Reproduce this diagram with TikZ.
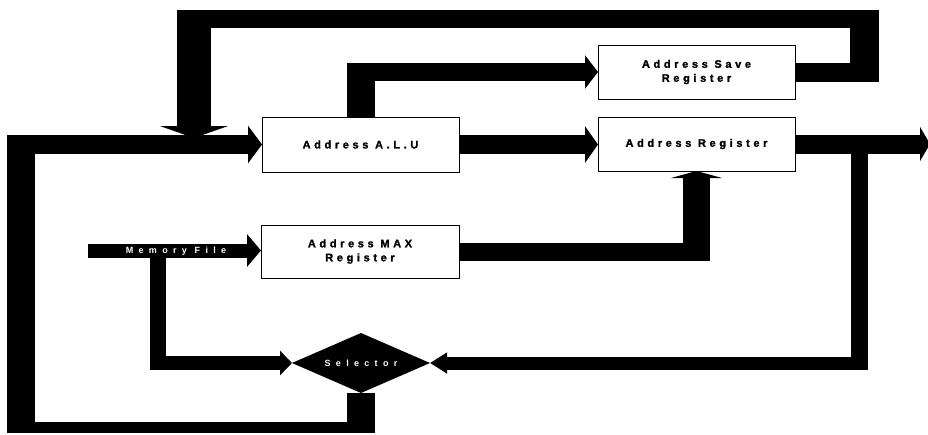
\documentclass[tikz,border=0pt]{standalone}
\usepackage{fontspec}
\setmainfont{Liberation Sans}
\newfontfamily\boxfont[LetterSpace=33,BoldFeatures={FakeBold=1.5}]{Liberation Sans}
\newfontfamily\bandfont[LetterSpace=59]{Liberation Sans}
\usetikzlibrary{arrows.meta,shapes.geometric}
\begin{document}
\begin{tikzpicture}[x=1pt,y=-1pt,
  box/.style={draw, line width=0.8pt, rectangle, fill=white, inner sep=0pt, outer sep=0pt,
    align=center, font=\boxfont\bfseries\fontsize{11}{14}\selectfont},
  band/.style={line width=#1, line cap=butt, line join=miter, draw=black},
  bandtext/.style={text=white, inner sep=0pt, font=\bandfont\bfseries\fontsize{9}{11}\selectfont}
]
\useasboundingbox (0,0) rectangle (928,434);

% blocks
\node[box, minimum width=197pt, minimum height=55pt] (alu)  at (360.5,144.5) {Address A.L.U};
\node[box, minimum width=197pt, minimum height=54pt] (save) at (696.5,72) {Address Save\\Register};
\node[box, minimum width=197pt, minimum height=54pt] (areg) at (696.5,144) {Address Register};
\node[box, minimum width=198pt, minimum height=53pt] (amax) at (360,251.5) {Address MAX\\Register};
\node[diamond, fill=black, minimum width=138pt, minimum height=60pt, inner sep=0pt, outer sep=0pt] (sel) at (361,363) {};

\coordinate (merge) at (194,138);
\coordinate (out) at (930,144);
\coordinate (mfin) at (88,250.5);

% selector -> ALU (main loop)
\draw[band=28pt] (sel.south) -- (361,433);
\draw[band=11pt] (375,427.5) -- (7,427.5);
\draw[band=28pt] (21,433) -- (21,135);
\draw[band=19pt, -{Triangle[length=14pt,width=37pt]}] (7,144.5) -- (alu.west);

% save register -> back into ALU input
\draw[band=19pt] (save.east) -- (879,72);
\draw[band=29pt] (864.5,81.5) -- (864.5,10);
\draw[band=18pt] (879,19) -- (177,19);
\draw[band=34pt, -{Triangle[length=12pt,width=68pt]}] (194,10) -- (merge);

% ALU -> save register
\draw[band=28pt] (alu.north) -- (360.5,64);
\draw[band=18pt, -{Triangle[length=13pt,width=33pt]}] (346.5,72) -- (save.west);

% ALU -> address register
\draw[band=19pt, -{Triangle[length=13pt,width=36pt]}] (alu.east) -- (alu.east -| areg.west);

% address register -> out
\draw[band=19pt, -{Triangle[length=10pt,width=34pt]}] (areg.east) -- (out);

% address register -> selector
\draw[band=17pt] (859.5,144) -- (859.5,370);
\draw[band=13pt, -{Triangle[length=17pt,width=20pt]}] (868,363) -- (sel.east);

% MAX register -> address register
\draw[band=18pt] (amax.east) -- (710,251.5);
\draw[band=27pt, -{Triangle[length=7pt,width=51pt]}] (696.5,260.5) -- (areg.south);

% memory file -> MAX register
\draw[band=14pt, -{Triangle[length=14pt,width=32pt]}] (mfin) -- (mfin -| amax.west);
% memory file -> selector
\draw[band=16pt] (158,256) -- (158,370);
\draw[band=14pt, -{Triangle[length=12pt,width=24pt]}] (150,363) -- (sel.west);

% texts on black
\node[bandtext] (mf) at (176,251) {Memory File};
\node[bandtext] (seltext) at (sel.center) {Selector};
\end{tikzpicture}
\end{document}
